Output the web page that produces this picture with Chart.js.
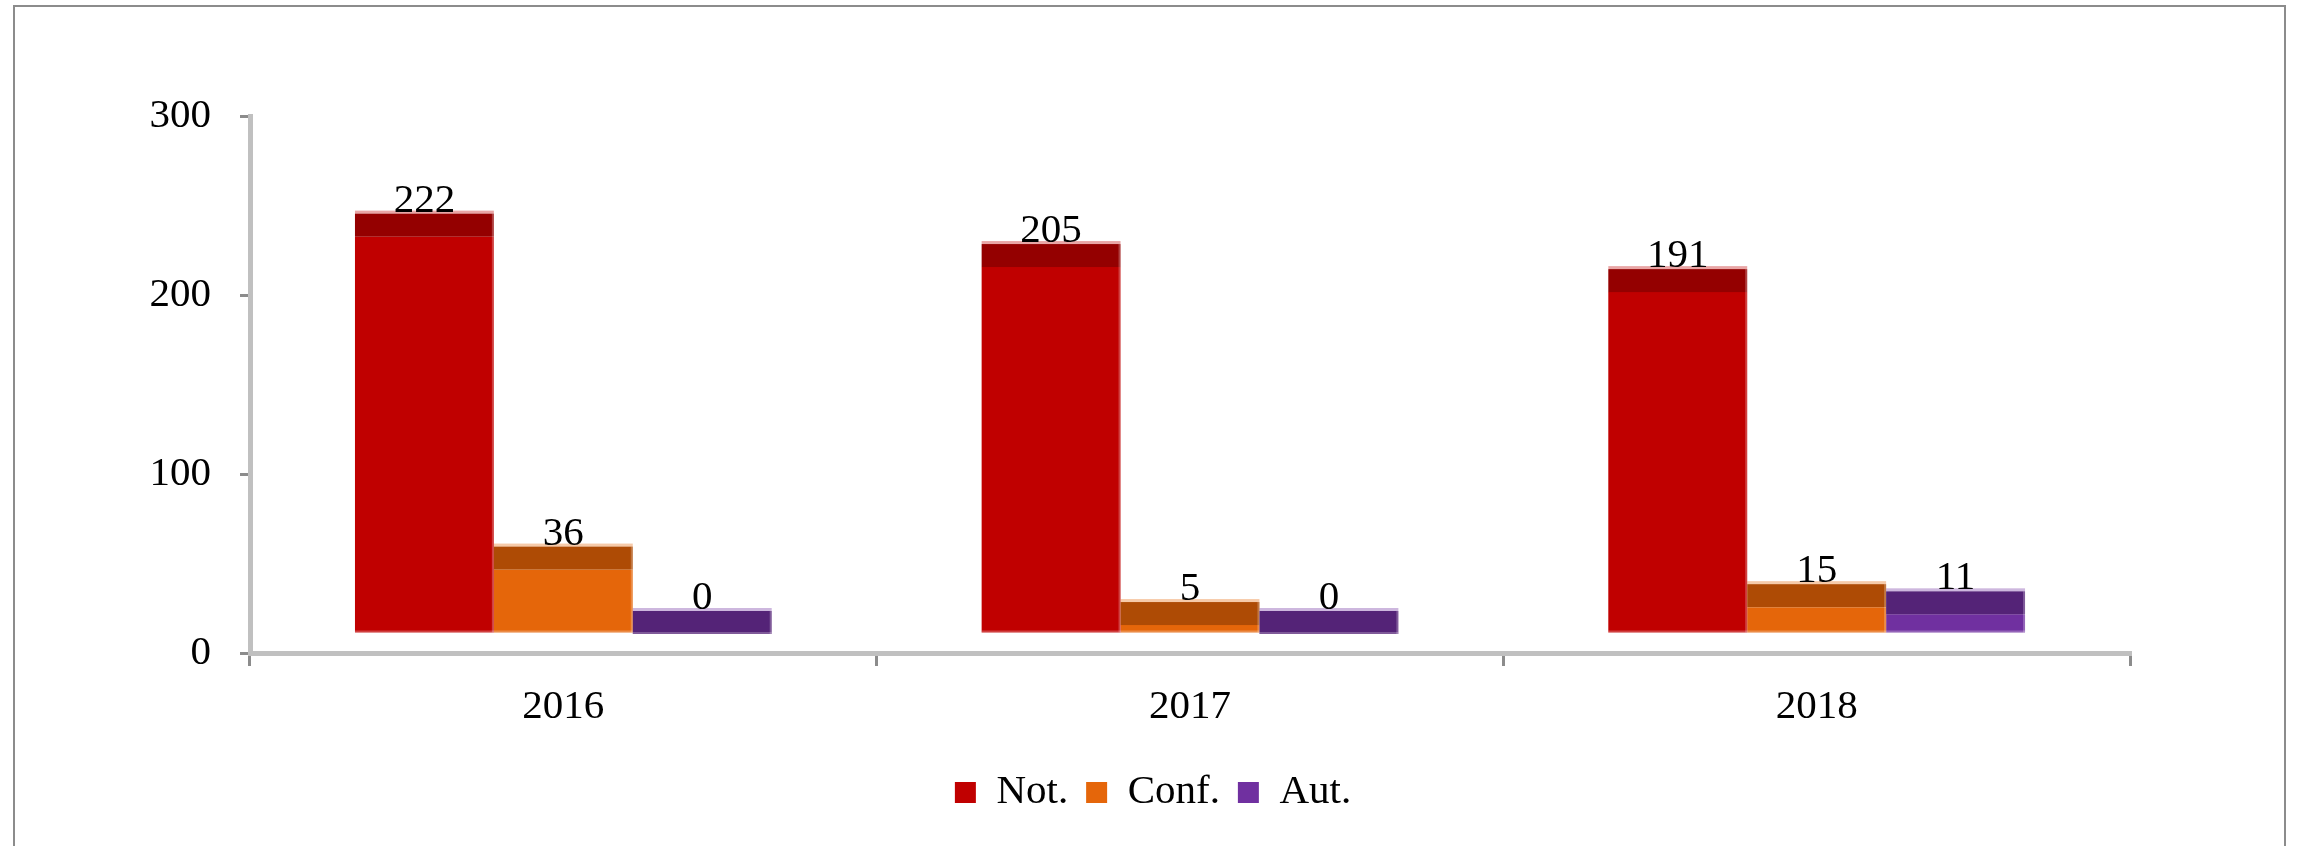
<!DOCTYPE html>
<html>
<head>
<meta charset="utf-8">
<script src="https://cdn.jsdelivr.net/npm/chart.js@4.4.1/dist/chart.umd.min.js"></script>
<style>
  html, body { margin: 0; padding: 0; background: #fff; overflow: hidden; }
  #wrap { position: absolute; left: 0; top: 0; width: 2298px; height: 846px; }
  #frame { position: absolute; left: 13px; top: 5px; width: 2273px; height: 900px;
           border: 2px solid #8c8c8c; box-sizing: border-box; pointer-events: none; }
</style>
</head>
<body>
<div id="wrap"><canvas id="chart" width="2298" height="846"></canvas></div>
<div id="frame"></div>
<script>
// Data
const years = ["2016", "2017", "2018"];
const seriesNames = ["Not.", "Conf.", "Aut."];
const notValues = [222, 205, 191];
const confValues = [36, 5, 15];
const autValues = [0, 0, 11];
const yTicks = [0, 100, 200, 300];

// Look of the Excel 3D columns
const frontColors = ["#c00000", "#e5660a", "#7030a0"];
const capColors = ["#940000", "#ae4b05", "#542377"];
const rimColors = ["rgba(192,0,0,0.35)", "rgba(229,102,10,0.35)", "rgba(112,48,160,0.35)"];
const lift = 19;       // columns float above the floor
const capHeight = 23;  // darker top face
const font = { family: "'Liberation Serif', 'DejaVu Serif', serif", size: 41 };

// Shift columns up and add the top face, edges and value labels
const bar3d = {
    id: "bar3d",
    beforeDatasetsDraw(chart) {
        chart.ctx.save();
        chart.ctx.translate(0, -lift);
    },
    afterDatasetsDraw(chart) {
        const ctx = chart.ctx;
        ctx.restore();
        chart.data.datasets.forEach((ds, di) => {
            const meta = chart.getDatasetMeta(di);
            meta.data.forEach((bar, i) => {
                const left = bar.x - bar.width / 2;
                const top = bar.y - lift;
                const bottom = bar.base - lift;
                ctx.fillStyle = capColors[di];
                ctx.fillRect(left, top - capHeight, bar.width, capHeight);
                ctx.fillStyle = rimColors[di];
                ctx.fillRect(left, top - capHeight - 3, bar.width, 3);
                ctx.fillStyle = "rgba(255,255,255,0.25)";
                ctx.fillRect(left, bottom - 2, bar.width, 2);
                ctx.fillRect(left + bar.width - 2, top - capHeight, 2, bottom - top + capHeight);

                ctx.fillStyle = "#000";
                ctx.font = font.size + "px " + font.family;
                ctx.textAlign = "center";
                ctx.textBaseline = "alphabetic";
                ctx.fillText(String(ds.data[i]), bar.x, top - capHeight - 2);
            });
        });
    }
};

const ctx = document.getElementById("chart").getContext("2d");
new Chart(ctx, {
    type: "bar",
    data: {
        labels: years,
        datasets: [
            { label: seriesNames[0], data: notValues, backgroundColor: frontColors[0] },
            { label: seriesNames[1], data: confValues, backgroundColor: frontColors[1] },
            { label: seriesNames[2], data: autValues, backgroundColor: frontColors[2] }
        ]
    },
    options: {
        responsive: false,
        devicePixelRatio: 1,
        animation: false,
        layout: { padding: { top: 116, left: 8, right: 0, bottom: 23 } },
        datasets: { bar: { barPercentage: 1, categoryPercentage: 0.665, borderWidth: 0 } },
        scales: {
            x: {
                offset: true,
                afterFit(scale) { scale.height = 101; },
                grid: { offset: true, drawOnChartArea: false, tickLength: 13, color: "#8c8c8c", lineWidth: 3 },
                border: { color: "#c0c0c0", width: 5 },
                ticks: { padding: 17, color: "#000", font: font }
            },
            y: {
                min: 0,
                max: 300,
                afterFit(scale) { scale.width = 242; },
                afterBuildTicks(scale) { scale.ticks = yTicks.map(v => ({ value: v })); },
                grid: { drawOnChartArea: false, tickLength: 10, color: "#8c8c8c", lineWidth: 3 },
                border: { color: "#c0c0c0", width: 5 },
                ticks: { padding: 29, color: "#000", font: font }
            },
            // empty right margin so the legend sits where it does in the picture
            spacer: {
                type: "linear",
                position: "right",
                afterFit(scale) { scale.width = 168; },
                grid: { display: false },
                border: { display: false },
                ticks: { display: false }
            }
        },
        plugins: {
            legend: {
                position: "bottom",
                labels: { boxWidth: 21, boxHeight: 21, padding: 18, color: "#000", font: font }
            },
            tooltip: { enabled: false }
        }
    },
    plugins: [bar3d]
});
</script>
</body>
</html>
